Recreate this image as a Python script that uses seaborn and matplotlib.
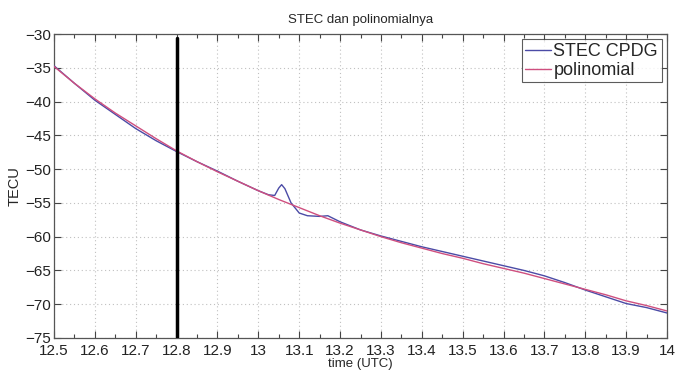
import numpy as np
import pandas as pd
import matplotlib
matplotlib.use("Agg")
import matplotlib.pyplot as plt
from matplotlib.ticker import MultipleLocator
import seaborn as sns

stec_time = [12.50, 12.55, 12.60, 12.65, 12.70, 12.75, 12.80, 12.85, 12.90, 12.95,
             13.00, 13.025, 13.04, 13.05, 13.057, 13.065, 13.08, 13.10, 13.12, 13.15,
             13.17, 13.20, 13.25, 13.30, 13.35, 13.40, 13.45, 13.50, 13.55, 13.60,
             13.65, 13.70, 13.75, 13.80, 13.85, 13.90, 13.95, 14.00]
stec_val = [-34.7, -37.3, -39.8, -41.9, -44.0, -45.8, -47.4, -48.9, -50.3, -51.8,
            -53.2, -53.8, -53.9, -52.8, -52.3, -52.9, -55.0, -56.5, -56.9, -57.0,
            -56.9, -57.8, -59.0, -59.9, -60.7, -61.5, -62.2, -62.9, -63.6, -64.3,
            -65.0, -65.8, -66.8, -67.9, -68.9, -69.9, -70.5, -71.3]

# polynomial fit
poly_time = [12.50, 12.55, 12.60, 12.65, 12.70, 12.75, 12.80, 12.85, 12.90, 12.95,
             13.00, 13.05, 13.10, 13.15, 13.20, 13.25, 13.30, 13.35, 13.40, 13.45,
             13.50, 13.55, 13.60, 13.65, 13.70, 13.75, 13.80, 13.85, 13.90, 13.95, 14.00]
poly_val = [-34.8, -37.3, -39.6, -41.7, -43.6, -45.5, -47.3, -48.9, -50.4, -51.8,
            -53.2, -54.5, -55.7, -56.9, -58.0, -59.0, -60.0, -60.9, -61.7, -62.5,
            -63.2, -64.0, -64.7, -65.4, -66.2, -67.0, -67.8, -68.6, -69.5, -70.2, -71.0]

marker_time = 12.8

sns.set_style("ticks")
plt.rcParams['font.family'] = ['Liberation Sans', 'DejaVu Sans']

fig = plt.figure(figsize=(6.88, 3.75), dpi=100)
ax = fig.add_axes([0.0785, 0.0987, 0.891, 0.8106])

df_stec = pd.DataFrame({'time': stec_time, 'TECU': stec_val})
df_poly = pd.DataFrame({'time': poly_time, 'TECU': poly_val})

sns.lineplot(data=df_stec, x='time', y='TECU', ax=ax, color='#4b4ba6', lw=1.0,
             label='STEC CPDG', zorder=3)
sns.lineplot(data=df_poly, x='time', y='TECU', ax=ax, color='#cf4f7f', lw=1.0,
             label='polinomial', zorder=4)

ax.plot([marker_time, marker_time], [-74.8, -30.6], color='black', lw=2.5, zorder=5)

ax.set_xlim(12.5, 14)
ax.set_ylim(-75, -30)
ax.xaxis.set_major_locator(MultipleLocator(0.1))
ax.xaxis.set_minor_locator(MultipleLocator(0.05))
ax.yaxis.set_major_locator(MultipleLocator(5))
ax.set_xticklabels([f"{v:g}" for v in ax.get_xticks()])

ax.grid(True, which='major', color='#c0c0c0', linestyle=(0, (1, 2.5)), lw=0.8)
ax.tick_params(which='both', direction='in', top=True, right=True, colors='#444444',
               labelcolor='#222222')
ax.tick_params(which='major', length=5, width=0.8, labelsize=11)
ax.tick_params(which='minor', length=3, width=0.8)
ax.tick_params(axis='x', pad=4)
ax.tick_params(axis='y', pad=2)
for s in ax.spines.values():
    s.set_color('#555555')
    s.set_linewidth(0.9)

ax.set_title('STEC dan polinomialnya', fontsize=9.5, pad=8)
ax.set_xlabel('time (UTC)', fontsize=9.5, labelpad=0)
ax.set_ylabel('TECU', fontsize=10.5, labelpad=3)

leg = ax.legend(loc='upper right', fontsize=13, frameon=True, fancybox=False,
                handlelength=1.4, handletextpad=0.15, borderpad=0.2,
                labelspacing=0.1, borderaxespad=0.3)
leg.get_frame().set_edgecolor('#333333')
leg.get_frame().set_linewidth(0.8)

fig.savefig('out.png', dpi=100)
